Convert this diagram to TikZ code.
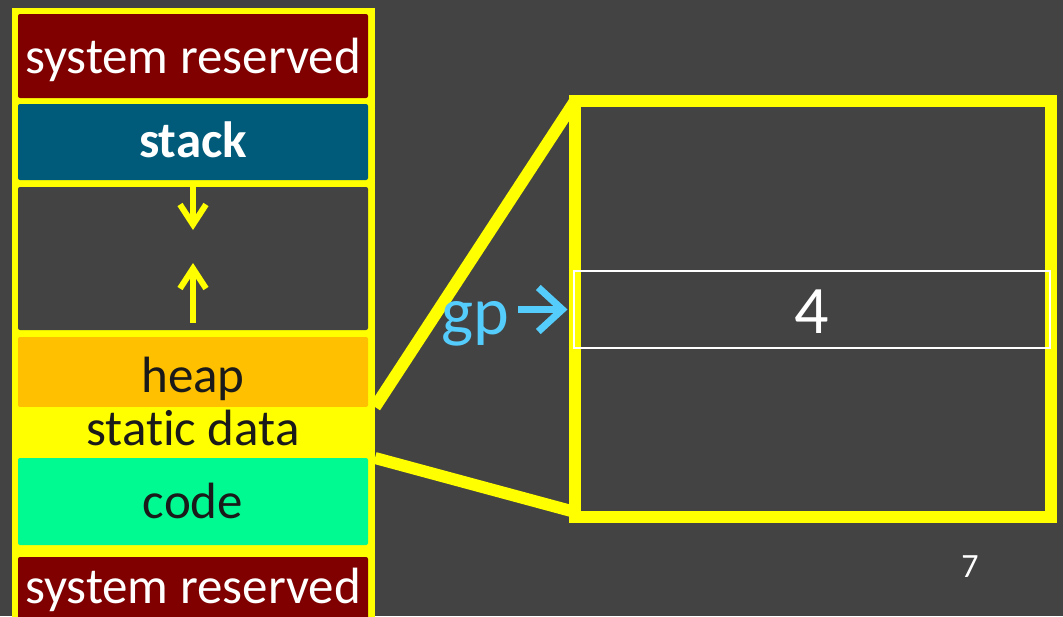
\documentclass[tikz,border=0pt]{standalone}
\usepackage{fontspec}
\setmainfont[Ligatures=NoCommon]{Carlito}
\usetikzlibrary{arrows.meta}
\definecolor{bg}{RGB}{67,67,67}
\definecolor{darkred}{RGB}{128,0,0}
\definecolor{stackblue}{RGB}{0,91,122}
\definecolor{heaporange}{RGB}{255,192,0}
\definecolor{codegreen}{RGB}{0,250,146}
\definecolor{memyellow}{RGB}{255,255,0}
\definecolor{gpcyan}{RGB}{85,205,252}
\definecolor{textdark}{RGB}{26,26,26}
\begin{document}
\begin{tikzpicture}[x=1pt,y=-1pt,
  block/.style={rectangle, inner sep=0pt, outer sep=0pt, minimum width=350pt, rounded corners=2pt},
  lbl/.style={anchor=base, inner sep=0pt, font=\fontsize{51}{60}\selectfont},
  biglbl/.style={anchor=base, inner sep=0pt, font=\fontsize{68}{80}\selectfont},
  growarrow/.style={draw=memyellow, line width=6pt, -{Straight Barb[length=20pt,width=26pt]}},
  gparrow/.style={draw=gpcyan, line width=7pt, -{Straight Barb[length=24pt,width=44pt]}},
  zoomline/.style={draw=memyellow, line width=12pt}]
\useasboundingbox (0,0) rectangle (1063,616);
\clip (0,0) rectangle (1063,616);
\fill[bg] (0,0) rectangle (1063,616);

% memory layout column
\node[block, fill=memyellow, minimum width=363pt, minimum height=640pt, rounded corners=0pt, anchor=north west] (column) at (12,8) {};
\node[block, fill=darkred, minimum height=84pt] (systop) at (193,56) {};
\node[block, fill=stackblue, minimum height=76pt] (stack) at (193,142) {};
\node[block, fill=bg, minimum height=143pt] (free) at (193,258.5) {};
\node[block, fill=heaporange, minimum height=70pt] (heap) at (193,372) {};
\node[block, fill=memyellow, minimum width=363pt, minimum height=51pt, rounded corners=0pt] (static) at (193.5,432.5) {};
\node[block, fill=codegreen, minimum height=87pt] (code) at (193,501.5) {};
\node[block, fill=darkred, minimum height=90pt] (sysbot) at (193,602) {};

\node[lbl, text=white] (systoptxt) at (193,73) {system reserved};
\node[lbl, text=white, font=\fontsize{51}{60}\selectfont\bfseries] (stacktxt) at (193,157) {stack};
\node[lbl, text=textdark] (heaptxt) at (193,392) {heap};
\node[lbl, text=textdark] (statictxt) at (193,445) {static data};
\node[lbl, text=textdark] (codetxt) at (193,518) {code};
\node[lbl, text=white] (sysbottxt) at (193,603) {system reserved};

% growth arrows of stack and heap
\coordinate (downtip) at (193,230);
\coordinate (uptail) at (193,323);
\coordinate (uptip) at (193,263);
\draw[growarrow] (free.north) -- (downtip);
\draw[growarrow] (uptail) -- (uptip);

% magnified static data segment
\node[rectangle, draw=memyellow, line width=12pt, inner sep=0pt, outer sep=0pt,
      minimum width=476pt, minimum height=416pt] (zoom) at (813,309) {};
\draw[zoomline] (static.north east) -- (zoom.north west);
\draw[zoomline] (static.south east) -- ([yshift=5pt]zoom.south west);

\node[rectangle, draw=white, line width=2pt, inner sep=0pt, outer sep=0pt,
      minimum width=476pt, minimum height=77pt] (cell) at (811.5,309.5) {};
\node[biglbl, text=white] (four) at (812,333) {4};

\node[biglbl, text=gpcyan] (gp) at (475,334) {gp};
\draw[gparrow] ([xshift=9pt]gp.east |- cell.west) -- ([xshift=-6pt]cell.west);

\node[anchor=base, inner sep=0pt, text=white, font=\fontsize{34}{40}\selectfont] (pagenum) at (970,577) {7};
\end{tikzpicture}
\end{document}
